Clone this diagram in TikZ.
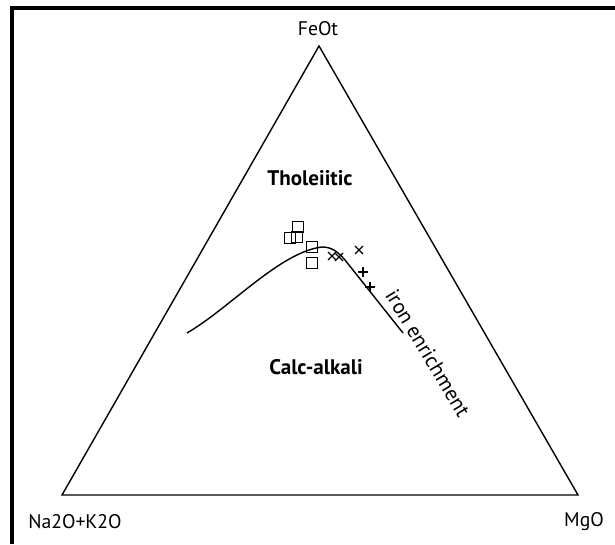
\documentclass[tikz,border=0pt]{standalone}
\usepackage{fontspec}
\setmainfont{PT Sans}
\usetikzlibrary{positioning}
\tikzset{
  lbl/.style={font=\fontsize{14}{16}\selectfont, inner sep=1pt},
  field/.style={font=\fontsize{15}{17}\selectfont\bfseries, inner sep=1pt},
  sq/.style={draw, rectangle, minimum size=11*0.025cm, inner sep=0pt, line width=0.7pt},
  xmark/.style={line width=0.9pt}
}
\begin{document}
\begin{tikzpicture}[x=0.025cm, y=-0.025cm]
  \useasboundingbox (0,0) rectangle (615,544);
  % Frame
  \draw[line width=2.2pt] (12,544) -- (12,8) -- (615,8);
  % Ternary triangle
  \coordinate (fe) at (319,46);
  \coordinate (na) at (62,495);
  \coordinate (mg) at (578,495);
  \draw[line width=1pt, line join=miter] (fe) -- (mg) -- (na) -- cycle;
  \node[lbl] (feot) at (318,29) {FeOt};
  \node[lbl] (alk) at (75,522) {Na2O+K2O};
  \node[lbl] (mgo) at (584,522) {MgO};
  % Fields
  \node[field] (thol) at (310,178) {Tholeiitic};
  \node[field] (calc) at (316,367) {Calc-alkali};
  \node[font=\fontsize{15}{17}\selectfont, inner sep=1pt, rotate=-59] (iron) at (428,353) {iron enrichment};
  % Dividing curve
  \coordinate (c0) at (187,333);
  \coordinate (c1) at (322,247);
  \coordinate (c2) at (345,260);
  \coordinate (c3) at (403,333);
  \draw[line width=1pt] (c0) .. controls (230,308) and (280,252) .. (c1)
    .. controls (332,247) and (338,252) .. (c2) -- (c3);
  % Samples
  \foreach \x/\y [count=\i] in {298/227, 297/237, 290/238, 312/247, 312/263}
    \node[sq] (s\i) at (\x,\y) {};
  \foreach \x/\y [count=\i] in {332/256, 339/257, 359/250}
    \draw[xmark] (\x-4,\y-4) -- (\x+4,\y+4) (\x-4,\y+4) -- (\x+4,\y-4);
  \foreach \x/\y [count=\i] in {363/272, 370/287}
    \draw[xmark] (\x-5,\y) -- (\x+5,\y) (\x,\y-5) -- (\x,\y+5);
\end{tikzpicture}
\end{document}
